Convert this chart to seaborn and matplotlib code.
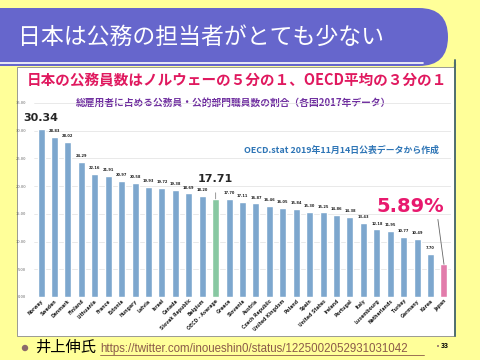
import matplotlib
matplotlib.use('Agg')
import matplotlib.pyplot as plt
import matplotlib.patches as mpatches
import seaborn as sns
import pandas as pd

# OECD share of public employment in total employment (2017)
countries = ['Norway', 'Sweden', 'Denmark', 'Finland', 'Lithuania', 'France', 'Estonia',
             'Hungary', 'Latvia', 'Israel', 'Canada', 'Slovak Republic', 'Belgium',
             'OECD - Average', 'Greece', 'Slovenia', 'Austria', 'Czech Republic',
             'United Kingdom', 'Poland', 'Spain', 'United States', 'Ireland', 'Portugal',
             'Italy', 'Luxembourg', 'Netherlands', 'Turkey', 'Germany', 'Korea', 'Japan']
values = [30.34, 28.83, 28.02, 24.29, 22.16, 21.91, 20.97, 20.58, 19.93, 19.72, 19.38,
          18.69, 18.20, 17.71, 17.70, 17.11, 16.87, 16.46, 16.05, 15.84, 15.30, 15.25,
          14.86, 14.38, 13.43, 12.18, 11.95, 10.77, 10.49, 7.70, 5.89]
yticks = [0, 5, 10, 15, 20, 25, 30, 35]

BLUE, GREEN, PINK = '#6FA8DC', '#7DD3A0', '#F36BAA'
colors = [GREEN if c == 'OECD - Average' else PINK if c == 'Japan' else BLUE for c in countries]

df = pd.DataFrame({'country': countries, 'value': values})

sns.set_style('white')
plt.rcParams['font.family'] = ['Noto Sans CJK JP', 'DejaVu Sans']

fig = plt.figure(figsize=(4.8, 3.6), dpi=100)
fig.patch.set_facecolor('#FFFF99')

# slide decoration in pixel coordinates
bg = fig.add_axes([0, 0, 1, 1])
bg.set_xlim(0, 480)
bg.set_ylim(360, 0)
bg.axis('off')
bg.add_patch(mpatches.FancyBboxPatch((-40, 8), 488, 58, boxstyle='round,pad=0,rounding_size=29',
                                     fc='#6666CC', ec='none'))
bg.plot([0, 423], [63, 63], color='white', lw=1.2)
bg.add_patch(mpatches.Arc((440, 65), 30, 40, theta1=-10, theta2=60, color='#4F7F7F', lw=1.5))
bg.add_patch(mpatches.Rectangle((17, 67), 438, 269, fc='white', ec='#8A8A8A', lw=0.6))
bg.plot([455, 455], [60, 336], color='#4F6F6F', lw=1.4)
bg.text(18, 37, '日本は公務の担当者がとても少ない', color='white', fontsize=16.5, va='center', ha='left')
bg.text(237, 80, '日本の公務員数はノルウェーの５分の１、OECD平均の３分の１', color='#E0195F',
        fontsize=10.5, fontweight='bold', va='center', ha='center')
bg.text(234, 103, '総雇用者に占める公務員・公的部門職員数の割合（各国2017年データ）', color='#7030A0',
        fontsize=7.0, fontweight='bold', va='center', ha='center')
bg.text(342, 150, 'OECD.stat 2019年11月14日公表データから作成', color='#2E75B6',
        fontsize=6.4, fontweight='bold', va='center', ha='center')

# footer
bg.add_patch(mpatches.Circle((25, 348), 3.2, fc='#8C6A6A', ec='none'))
bg.text(35, 347, '井上伸氏', color='black', fontsize=11, va='center', ha='left')
bg.text(100, 349, 'https://twitter.com/inoueshin0/status/1225002052931031042', color='#8B5A4A',
        fontsize=8.3, va='center', ha='left', family=['Liberation Sans', 'DejaVu Sans'])
bg.plot([100, 424], [355, 355], color='#8B5A4A', lw=0.6)
bg.add_patch(mpatches.Circle((438, 346), 1, fc='#8C6A6A', ec='none'))
bg.text(441, 345, '33', color='black', fontsize=5, fontweight='bold', va='center', ha='left')

# chart
ax = fig.add_axes([34.3 / 480, 1 - 297 / 360, 416.4 / 480, 194 / 360])
ax.set_facecolor('none')
sns.barplot(data=df, x='country', y='value', hue='country', palette=colors,
            legend=False, width=0.52, ax=ax, zorder=3)
ax.set_xlim(-0.5, len(countries) - 0.5)
ax.set_ylim(0, 35)
ax.set_yticks(yticks)
ax.set_yticklabels([f'{t:.2f}' for t in yticks], fontsize=3, color='#666666')
ax.yaxis.grid(True, color='#E0E0E0', lw=0.5, zorder=0)
ax.tick_params(axis='y', length=0, pad=6)
ax.tick_params(axis='x', length=0, pad=1)
ax.set_xticks(range(len(countries)))
ax.set_xticklabels(countries, rotation=45, ha='right', rotation_mode='anchor',
                   fontsize=3.3, fontweight='bold', family=['DejaVu Sans'])
ax.set_xlabel('')
ax.set_ylabel('')
for s in ax.spines.values():
    s.set_visible(False)

for i, (c, v) in enumerate(zip(countries, values)):
    if c in ('Norway', 'OECD - Average', 'Japan'):
        continue
    ax.text(i, v + 0.7, f'{v:.2f}', ha='center', va='bottom', fontsize=2.6,
            fontweight='bold', color='#222222', family=['DejaVu Sans'])

ax.text(0, 31.4, f'{values[0]:.2f}', ha='center', va='bottom', fontsize=8,
        fontweight='bold', family=['DejaVu Sans'])
ax.annotate(f'{values[13]:.2f}', xy=(13, values[13]), xytext=(13, 21.3), ha='center', va='center',
            fontsize=8, fontweight='bold', family=['DejaVu Sans'],
            arrowprops=dict(arrowstyle='-', color='#888888', lw=0.6, shrinkA=4, shrinkB=0))
ax.annotate(f'{values[30]:.2f}%', xy=(30, values[30]), xytext=(27.5, 16.3), ha='center', va='center',
            fontsize=14, fontweight='bold', color='#E8196E', family=['DejaVu Sans'],
            arrowprops=dict(arrowstyle='-', color='#666666', lw=0.6, shrinkA=0, shrinkB=0,
                            relpos=(0.9, 0.0)))

fig.savefig('out.png', dpi=100, facecolor=fig.get_facecolor())
